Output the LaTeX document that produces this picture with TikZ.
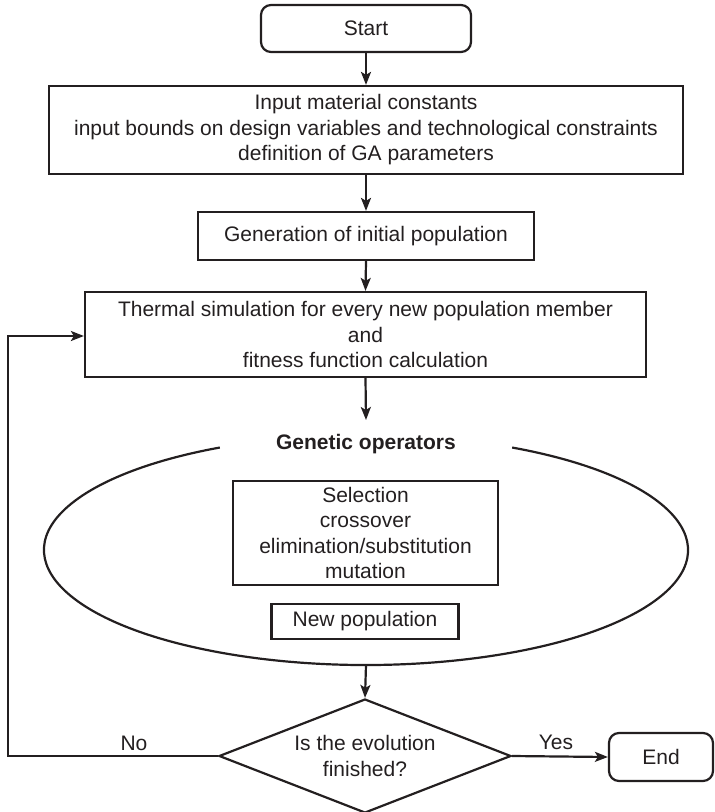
\documentclass[tikz,border=0pt]{standalone}
\usepackage{fontspec}
\setmainfont{Liberation Sans}
\usetikzlibrary{arrows.meta,shapes.geometric,calc}
\definecolor{ln}{RGB}{35,31,32}
\begin{document}
\begin{tikzpicture}[x=1pt,y=-1pt,
  every node/.style={text=ln, font=\fontsize{21}{25.5}\selectfont},
  box/.style={draw=ln, line width=2.2pt, align=center, inner sep=0pt},
  rbox/.style={box, rounded corners=10pt},
  lbl/.style={inner sep=0pt},
  arr/.style={draw=ln, line width=2.2pt, -{Stealth[length=13pt,width=10pt,inset=3pt]}},
  ln/.style={draw=ln, line width=2.2pt}]
\useasboundingbox (0,0) rectangle (715,812);

\node[rbox, minimum width=210pt, minimum height=47pt] (start) at (366,28.5) {Start};
\node[box, minimum width=634pt, minimum height=88pt] (inp) at (366,130)
  {Input material constants\\input bounds on design variables and technological constraints\\definition of GA parameters};
\node[box, minimum width=336pt, minimum height=48pt] (gen) at (366,236) {Generation of initial population};
\node[box, minimum width=561pt, minimum height=85pt] (therm) at (365.5,334.5)
  {Thermal simulation for every new population member\\and\\fitness function calculation};
\node[lbl, font=\fontsize{21}{25.5}\selectfont\bfseries] (gop) at (366,444) {Genetic operators};
\coordinate (gtop) at (366,420);
\coordinate (ec) at (366,550);
\coordinate (eb) at (366,665);
\draw[ln] (ec) ++(297:322 and 115) arc[start angle=297, end angle=603, x radius=322, y radius=115];
\node[box, minimum width=265pt, minimum height=104pt] (sel) at (365.5,533)
  {Selection\\crossover\\elimination/substitution\\mutation};
\node[box, minimum width=187pt, minimum height=35pt] (newp) at (365,621.5) {New population};
\node[box, shape=diamond, aspect=2.56, minimum width=292pt, minimum height=114pt] (dia) at (365,756)
  {Is the evolution\\finished?};
\node[rbox, minimum width=104pt, minimum height=48pt] (endn) at (661,757) {End};
\node[lbl] (no) at (134,743) {No};
\node[lbl] (yes) at (556,742) {Yes};
\coordinate (lb) at (8,756);
\coordinate (lt) at (8,336);

\draw[arr] (start.south) -- (inp.north);
\draw[arr] (inp.south) -- (gen.north);
\draw[arr] (gen.south) -- (therm.north);
\draw[arr] (therm.south) -- (gtop);
\draw[arr] (eb) -- (dia.north);
\draw[arr] (dia.west) -- (lb) -- (lt) -- (lt -| therm.west);
\draw[arr] (dia.east) -- (endn.west);
\end{tikzpicture}
\end{document}
